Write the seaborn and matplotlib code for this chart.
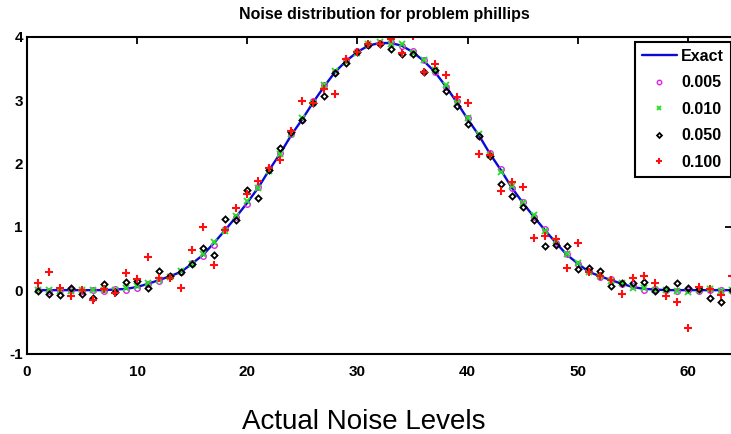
import numpy as np
import pandas as pd
import matplotlib
matplotlib.use("Agg")
import matplotlib.pyplot as plt
import seaborn as sns

# Sample index along the discretised problem
index = list(range(1, 65))

# Exact solution of the phillips test problem
exact = [0.00, 0.00, 0.00, 0.00, 0.00, 0.00, 0.00, 0.01, 0.02, 0.05,
         0.10, 0.16, 0.22, 0.29, 0.42, 0.56, 0.75, 0.95, 1.16, 1.38,
         1.62, 1.90, 2.16, 2.45, 2.70, 2.97, 3.22, 3.45, 3.62, 3.76,
         3.86, 3.90, 3.90, 3.86, 3.76, 3.62, 3.45, 3.22, 2.97, 2.70,
         2.45, 2.16, 1.90, 1.62, 1.38, 1.16, 0.95, 0.75, 0.56, 0.42,
         0.29, 0.22, 0.16, 0.10, 0.05, 0.02, 0.01, 0.00, 0.00, 0.00,
         0.00, 0.00, 0.00, 0.00]

# Noisy samples for each noise level
noise_005 = [0.01, -0.01, 0.00, 0.01, -0.01, 0.00, -0.02, 0.02, 0.01, 0.04,
             0.09, 0.15, 0.23, 0.28, 0.43, 0.54, 0.72, 0.96, 1.15, 1.36,
             1.63, 1.91, 2.17, 2.46, 2.69, 2.99, 3.23, 3.44, 3.63, 3.77,
             3.87, 3.90, 3.91, 3.85, 3.77, 3.63, 3.44, 3.21, 2.98, 2.71,
             2.44, 2.17, 1.91, 1.61, 1.39, 1.15, 0.96, 0.74, 0.57, 0.41,
             0.30, 0.21, 0.17, 0.09, 0.06, 0.01, 0.02, 0.00, -0.01, 0.01,
             -0.02, 0.00, 0.01, -0.01]

noise_010 = [0.00, 0.01, -0.01, -0.02, 0.01, 0.00, 0.01, 0.00, 0.04, 0.06,
             0.12, 0.16, 0.21, 0.30, 0.41, 0.57, 0.76, 0.93, 1.17, 1.40,
             1.61, 1.88, 2.15, 2.47, 2.72, 2.95, 3.24, 3.46, 3.60, 3.75,
             3.88, 3.92, 3.88, 3.88, 3.74, 3.64, 3.47, 3.24, 2.95, 2.72,
             2.46, 2.14, 1.87, 1.64, 1.37, 1.18, 0.93, 0.77, 0.57, 0.43,
             0.28, 0.23, 0.15, 0.12, 0.04, 0.03, 0.01, 0.01, -0.02, -0.03,
             0.01, 0.02, -0.01, 0.00]

noise_050 = [-0.02, -0.06, -0.07, 0.04, -0.06, -0.12, 0.10, -0.03, 0.13, 0.14,
             0.03, 0.30, 0.22, 0.28, 0.42, 0.67, 0.56, 1.12, 1.11, 1.58,
             1.46, 1.89, 2.25, 2.50, 2.69, 2.96, 3.06, 3.43, 3.59, 3.76,
             3.87, 3.89, 3.80, 3.72, 3.72, 3.45, 3.48, 3.14, 2.91, 2.62,
             2.43, 2.12, 1.68, 1.48, 1.31, 1.11, 0.70, 0.72, 0.69, 0.33,
             0.35, 0.30, 0.06, 0.12, 0.12, 0.13, -0.02, 0.02, 0.12, 0.03,
             0.02, -0.12, -0.18, 0.00]

noise_100 = [0.11, 0.28, 0.04, -0.09, 0.01, -0.15, 0.02, -0.05, 0.27, 0.17,
             0.53, 0.19, 0.19, 0.04, 0.64, 1.00, 0.40, 0.95, 1.30, 1.52,
             1.73, 1.92, 2.06, 2.51, 2.99, 2.95, 3.18, 3.09, 3.65, 3.76,
             3.89, 3.89, 3.97, 3.74, 4.01, 3.44, 3.57, 3.40, 3.05, 2.95,
             2.15, 2.14, 1.57, 1.71, 1.62, 0.82, 0.86, 0.80, 0.35, 0.75,
             0.28, 0.23, 0.16, -0.06, 0.19, 0.22, 0.11, -0.09, -0.19, -0.59,
             0.05, 0.02, -0.07, 0.23]

x_ticks = [0, 10, 20, 30, 40, 50, 60]
y_ticks = [-1, 0, 1, 2, 3, 4]

sns.set_style("white")
plt.rcParams["font.family"] = ["Liberation Sans", "DejaVu Sans"]
plt.rcParams["axes.unicode_minus"] = False
plt.rcParams["text.color"] = "black"

W, H = 731, 434
fig = plt.figure(figsize=(W / 100, H / 100), dpi=100)
ax = fig.add_axes([27 / W, 1 - 353.5 / H, 705 / W, (353.5 - 36.7) / H])

df = pd.DataFrame({"n": index, "exact": exact, "n005": noise_005,
                   "n010": noise_010, "n050": noise_050, "n100": noise_100})

sns.lineplot(data=df, x="n", y="exact", ax=ax, color="#0a0ad8", lw=1.7,
             label="Exact", estimator=None, sort=False)
sns.lineplot(data=df, x="n", y="n005", ax=ax, linestyle="none", marker="o",
             markersize=4.0, markerfacecolor="none", markeredgecolor="#e020e8",
             markeredgewidth=1.0, color="#e020e8", label="0.005",
             estimator=None, sort=False)
sns.lineplot(data=df, x="n", y="n010", ax=ax, linestyle="none", marker="x",
             markersize=3.8, markeredgecolor="#22e022", markeredgewidth=1.3,
             color="#22e022", label="0.010", estimator=None, sort=False)
sns.lineplot(data=df, x="n", y="n050", ax=ax, linestyle="none", marker="D",
             markersize=3.1, markerfacecolor="none", markeredgecolor="black",
             markeredgewidth=1.3, color="black", label="0.050",
             estimator=None, sort=False)
sns.lineplot(data=df, x="n", y="n100", ax=ax, linestyle="none", marker="+",
             markersize=6.0, markeredgecolor="#ff1010", markeredgewidth=1.5,
             color="#ff1010", label="0.100", estimator=None, sort=False)

ax.set_xlim(0, 64)
ax.set_ylim(-1, 4)
ax.set_xticks(x_ticks)
ax.set_yticks(y_ticks)
ax.set_xlabel("")
ax.set_ylabel("")

for side in ["left", "right", "top", "bottom"]:
    ax.spines[side].set_visible(True)
    ax.spines[side].set_color("black")
    ax.spines[side].set_linewidth(1.5)

ax.tick_params(axis="both", which="major", direction="in", length=4.7,
               width=1.3, top=True, right=True, labelsize=11, colors="black")
ax.tick_params(axis="x", pad=8)
ax.tick_params(axis="y", pad=3)
for lab in ax.get_xticklabels() + ax.get_yticklabels():
    lab.set_fontweight("bold")

leg = ax.legend(loc="upper right", bbox_to_anchor=(731 / W, 1 - 41.7 / H),
                bbox_transform=fig.transFigure, frameon=True, fancybox=False,
                edgecolor="black", framealpha=1, fontsize=11.5, numpoints=1,
                handlelength=2.2, handletextpad=0.25, labelspacing=0.72,
                borderpad=0.45, borderaxespad=0, markerscale=0.8)
leg.get_frame().set_linewidth(1.5)
for t in leg.get_texts():
    t.set_fontweight("bold")
    t.set_color("black")

fig.text(384 / W, 1 - 14 / H, "Noise distribution for problem phillips",
         ha="center", va="center", fontsize=11.5, fontweight="bold",
         color="black")
fig.text(364 / W, 1 - 422 / H, "Actual Noise Levels", ha="center",
         va="center", fontsize=20, color="black")

fig.savefig("out.png", dpi=100)
